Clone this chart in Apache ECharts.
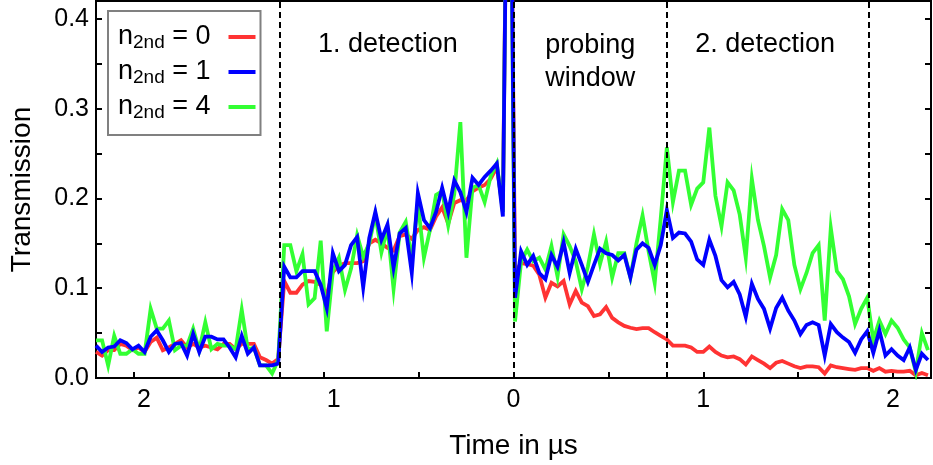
<!DOCTYPE html>
<html>
<head>
<meta charset="utf-8">
<script src="https://cdn.jsdelivr.net/npm/echarts@6/dist/echarts.min.js"></script>
<style>
  html, body { margin: 0; padding: 0; background: #fff; }
  #chart { width: 933px; height: 465px; }
</style>
</head>
<body>
<div id="chart"></div>
<script>
// Sampling grid (µs): negative side is the first detection, positive side the probing window / second detection
const timeStart = -2.2;
const timeStep = 0.032;

// Transmission traces for n_2nd = 0, 1, 4
const red0 = [
  0.029, 0.025, 0.031, 0.031, 0.038, 0.036, 0.031, 0.034, 0.029, 0.040,
  0.045, 0.031, 0.034, 0.038, 0.042, 0.034, 0.038, 0.034, 0.036, 0.034,
  0.032, 0.038, 0.038, 0.032, 0.038, 0.038, 0.038, 0.023, 0.020, 0.016,
  0.021, 0.108, 0.095, 0.095, 0.104, 0.108, 0.107, 0.104, 0.093, 0.118,
  0.125, 0.128, 0.128, 0.128, 0.130, 0.150, 0.154, 0.150, 0.145, 0.142,
  0.158, 0.160, 0.155, 0.165, 0.168, 0.165, 0.180, 0.190, 0.172, 0.195,
  0.198, 0.198, 0.208, 0.212, 0.215, 0.222, 0.235, 0.190, 0.800,
  0.118, 0.128, 0.127, 0.125, 0.115, 0.0895, 0.106, 0.102, 0.108, 0.082,
  0.097, 0.084, 0.080, 0.069, 0.071, 0.079, 0.067, 0.062, 0.058, 0.056,
  0.0545, 0.0556, 0.0556, 0.051, 0.047, 0.043, 0.036, 0.036, 0.036, 0.034,
  0.029, 0.029, 0.035, 0.029, 0.025, 0.023, 0.024, 0.021, 0.015, 0.024,
  0.020, 0.016, 0.011, 0.017, 0.019, 0.016, 0.013, 0.011, 0.013, 0.013,
  0.012, 0.005, 0.014, 0.012, 0.011, 0.010, 0.009, 0.011, 0.011, 0.008,
  0.011, 0.007, 0.008, 0.007, 0.007, 0.008, 0.003, 0.0055, 0.003
];
const blue1 = [
  0.036, 0.029, 0.034, 0.035, 0.042, 0.039, 0.032, 0.036, 0.029, 0.046,
  0.053, 0.042, 0.029, 0.038, 0.039, 0.025, 0.049, 0.029, 0.046, 0.046,
  0.043, 0.043, 0.034, 0.023, 0.047, 0.027, 0.034, 0.014, 0.014, 0.014,
  0.016, 0.124, 0.112, 0.112, 0.119, 0.119, 0.119, 0.104, 0.078, 0.139,
  0.119, 0.126, 0.148, 0.157, 0.101, 0.156, 0.185, 0.154, 0.171, 0.123,
  0.161, 0.167, 0.117, 0.206, 0.176, 0.167, 0.185, 0.212, 0.185, 0.220,
  0.207, 0.185, 0.223, 0.215, 0.224, 0.231, 0.239, 0.180, 0.800,
  0.0895, 0.141, 0.126, 0.136, 0.117, 0.110, 0.137, 0.124, 0.151, 0.117,
  0.144, 0.126, 0.107, 0.126, 0.144, 0.139, 0.137, 0.131, 0.137, 0.112,
  0.143, 0.150, 0.145, 0.126, 0.148, 0.187, 0.156, 0.162, 0.161, 0.152,
  0.132, 0.126, 0.154, 0.136, 0.109, 0.101, 0.107, 0.093, 0.068, 0.105,
  0.088, 0.077, 0.055, 0.078, 0.0895, 0.075, 0.064, 0.049, 0.059, 0.062,
  0.059, 0.025, 0.060, 0.051, 0.045, 0.040, 0.028, 0.043, 0.052, 0.028,
  0.053, 0.025, 0.032, 0.025, 0.020, 0.034, 0.009, 0.027, 0.020
];
const green4 = [
  0.042, 0.042, 0.014, 0.047, 0.027, 0.027, 0.032, 0.027, 0.027, 0.077,
  0.055, 0.055, 0.064, 0.031, 0.036, 0.036, 0.055, 0.031, 0.062, 0.032,
  0.038, 0.036, 0.036, 0.032, 0.076, 0.032, 0.034, 0.014, 0.014, 0.005,
  0.020, 0.148, 0.148, 0.119, 0.138, 0.082, 0.089, 0.153, 0.052, 0.119,
  0.134, 0.098, 0.122, 0.159, 0.135, 0.150, 0.182, 0.140, 0.167, 0.099,
  0.162, 0.174, 0.132, 0.195, 0.134, 0.165, 0.204, 0.208, 0.170, 0.205,
  0.285, 0.134, 0.212, 0.215, 0.196, 0.225, 0.239, 0.185, 0.800,
  0.063, 0.130, 0.143, 0.130, 0.134, 0.121, 0.147, 0.113, 0.160, 0.147,
  0.130, 0.099, 0.124, 0.160, 0.127, 0.152, 0.112, 0.139, 0.139, 0.112,
  0.150, 0.181, 0.141, 0.106, 0.178, 0.257, 0.196, 0.231, 0.231, 0.193,
  0.211, 0.218, 0.279, 0.203, 0.169, 0.218, 0.209, 0.182, 0.134, 0.222,
  0.176, 0.147, 0.112, 0.137, 0.188, 0.176, 0.126, 0.099, 0.117, 0.139,
  0.148, 0.064, 0.167, 0.119, 0.110, 0.091, 0.060, 0.077, 0.0895, 0.042,
  0.064, 0.049, 0.064, 0.056, 0.043, 0.034, 0.0066, 0.050, 0.031
];

const seriesLabels = ['0', '1', '4'];

// Phase boundaries (µs) drawn as dashed verticals
const phaseBoundaries = [-1.23, 0, 0.81, 1.87];

// Axis ticks and labels
const xTickValues = [-2, -1.5, -1, -0.5, 0, 0.5, 1, 1.5, 2];
const xLabelValues = [-2, -1, 0, 1, 2];
const yTickValues = [0, 0.05, 0.1, 0.15, 0.2, 0.25, 0.3, 0.35, 0.4];
const yLabelValues = [0, 0.1, 0.2, 0.3, 0.4];

// Phase captions, anchored in data coordinates
const phaseCaptions = [
  { text: '1. detection', t: -0.662, v: 0.371 },
  { text: 'probing\nwindow', t: 0.404, v: 0.352 },
  { text: '2. detection', t: 1.326, v: 0.371 }
];

const FONT = "'Liberation Sans', Arial, Helvetica, sans-serif";
const times = red0.map((_, i) => +(timeStart + i * timeStep).toFixed(4));

function lineSeries(name, values, color, z) {
  return {
    name: name,
    type: 'line',
    data: times.map((t, i) => [t, values[i]]),
    showSymbol: false,
    symbol: 'none',
    clip: true,
    silent: true,
    z: z,
    lineStyle: { color: color, width: 3.8, join: 'miter' },
    itemStyle: { color: color },
    emphasis: { disabled: true }
  };
}

const redSeries = lineSeries(seriesLabels[0], red0, '#ff3333', 2);
const greenSeries = lineSeries(seriesLabels[2], green4, '#33ff33', 3);
const blueSeries = lineSeries(seriesLabels[1], blue1, '#0000ff', 4);
blueSeries.markLine = {
  silent: true,
  symbol: ['none', 'none'],
  label: { show: false },
  lineStyle: { color: '#000', type: [6, 4], width: 2 },
  emphasis: { disabled: true },
  data: phaseBoundaries.map(x => ({ xAxis: x }))
};

const axisLineStyle = { color: '#000', width: 2 };

const chart = echarts.init(document.getElementById('chart'), null, { renderer: 'canvas' });
chart.setOption({
  animation: false,
  backgroundColor: '#fff',
  grid: {
    left: 95, right: 2, top: 1, bottom: 84,
    show: true, borderColor: '#000', borderWidth: 2, backgroundColor: 'transparent'
  },
  xAxis: {
    type: 'value', min: -2.2, max: 2.2,
    axisLine: { show: true, onZero: false, lineStyle: axisLineStyle },
    axisTick: { show: true, inside: true, length: 6, customValues: xTickValues, lineStyle: axisLineStyle },
    axisLabel: {
      customValues: xLabelValues,
      // time before the probe is shown as its magnitude, in the slot a sign would take
      formatter: v => (v < 0 ? '{past|' : '{now|') + Math.abs(Math.round(v)) + '}',
      rich: {
        past: { fontSize: 25, fontFamily: FONT, color: '#000', padding: [0, 0, 0, 20] },
        now: { fontSize: 25, fontFamily: FONT, color: '#000' }
      },
      color: '#000', fontSize: 25, fontFamily: FONT, margin: 10
    },
    splitLine: { show: false },
    name: 'Time in µs', nameLocation: 'middle', nameGap: 54,
    nameTextStyle: { color: '#000', fontSize: 28, fontFamily: FONT }
  },
  yAxis: [
    {
      type: 'value', min: 0, max: 0.42, position: 'left',
      axisLine: { show: true, onZero: false, lineStyle: axisLineStyle },
      axisTick: { show: true, inside: true, length: 6, customValues: yTickValues, lineStyle: axisLineStyle },
      axisLabel: {
        customValues: yLabelValues,
        formatter: v => v.toFixed(1),
        color: '#000', fontSize: 25, fontFamily: FONT, margin: 7
      },
      splitLine: { show: false },
      name: 'Transmission', nameLocation: 'middle', nameGap: 60,
      nameTextStyle: { color: '#000', fontSize: 28, fontFamily: FONT }
    },
    {
      type: 'value', min: 0, max: 0.42, position: 'right',
      axisLine: { show: true, onZero: false, lineStyle: axisLineStyle },
      axisTick: { show: true, inside: true, length: 6, customValues: yTickValues, lineStyle: axisLineStyle },
      axisLabel: { show: false },
      splitLine: { show: false }
    }
  ],
  legend: {
    data: seriesLabels,
    orient: 'vertical',
    left: 108, top: 11,
    align: 'right',
    icon: 'rect',
    itemWidth: 27, itemHeight: 4, itemGap: 5,
    padding: [11, 5, 13, 10],
    borderColor: '#808080', borderWidth: 2, backgroundColor: '#fff',
    selectedMode: false,
    formatter: n => '{n|n}{s|2nd}{n| = ' + n + '}{g|}',
    textStyle: {
      color: '#000', fontFamily: FONT, fontSize: 27,
      rich: {
        n: { fontSize: 27, lineHeight: 34, fontFamily: FONT, color: '#000' },
        s: { fontSize: 19, lineHeight: 20, padding: [11, 0, 0, 0], fontFamily: FONT, color: '#000' },
        g: { width: 13 }
      }
    }
  },
  series: [redSeries, greenSeries, blueSeries]
});

// Phase captions placed from data coordinates
chart.setOption({
  graphic: phaseCaptions.map(c => {
    const p = chart.convertToPixel({ gridIndex: 0 }, [c.t, c.v]);
    return {
      type: 'text', x: p[0], y: p[1], z: 10, silent: true,
      style: {
        text: c.text, fill: '#000', font: '27px ' + FONT,
        align: 'center', verticalAlign: 'middle', lineHeight: 33
      }
    };
  })
});
</script>
</body>
</html>
